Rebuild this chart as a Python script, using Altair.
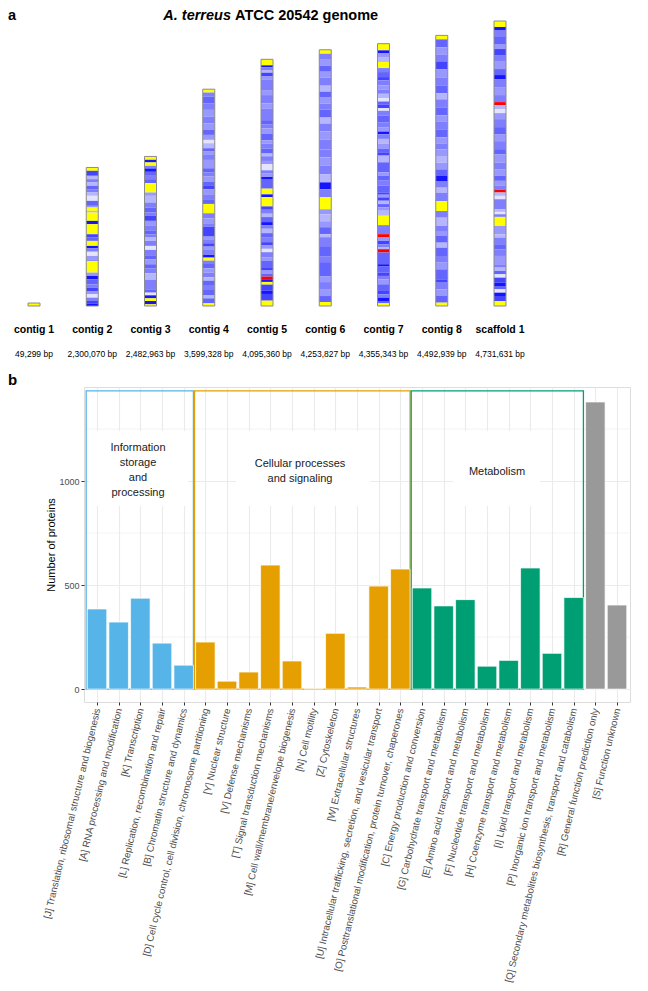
import altair as alt
import pandas as pd

FONT = "Liberation Sans"

# ---------------- panel a data ----------------
contig_names = ["contig 1", "contig 2", "contig 3", "contig 4", "contig 5",
                "contig 6", "contig 7", "contig 8", "scaffold 1"]
contig_lengths = [49299, 2300070, 2482963, 3599328, 4095360,
                  4253827, 4355343, 4492939, 4731631]
# bands from top to bottom, "code:relative length"
contig_bands = [
    "Y:1",
    "Y:2 5:3 1:2 3:2 1:2 4:2 3:2 1:2 0:3 4:3 2:1 Y:2 1:1 Y:5 6:2 Y:6 5:2 4:2 Y:3 6:1.5 3:2 0:2.5 "
    "2:2 3:1 Y:7 2:2 6:2 4:3 3:2 5:2 2:2 0:2 3:2 5:1.5 6:1.5",
    "Y:10 6:8 Y:10 3:8 6:10 4:12 3:10 4:12 Y:28 2:10 1:20 3:15 4:15 3:10 5:15 2:15 3:15 4:10 3:10 "
    "1:10 3:15 0:12 3:18 4:10 2:15 4:13 3:14 1:20 3:28 4:10 0:8 6:9 Y:8 6:10 Y:5",
    "Y:10 3:12 4:20 3:20 2:20 3:20 2:20 4:15 2:15 0:10 1:15 4:10 2:10 3:15 2:25 4:13 3:12 2:15 4:13 "
    "5:10 2:17 3:15 4:12 Y:28 3:15 2:15 3:10 5:30 2:10 3:10 5:10 2:10 3:15 6:8 Y:9 3:10 4:13 2:13 "
    "3:14 1:10 4:13 3:15 4:15 1:10 4:15 Y:8",
    "Y:18 6:6 3:8 1:8 5:10 2:10 3:32 2:15 3:25 2:15 3:35 4:12 3:13 2:15 4:20 2:10 3:15 4:15 1:8 "
    "3:14 2:10 0:18 3:10 2:10 6:8 4:27 Y:17 6:8 Y:28 5:10 3:12 1:10 4:15 6:10 3:10 1:13 4:12 3:15 "
    "5:10 2:10 0:10 3:15 2:10 4:20 5:10 2:10 4:8 R:8 6:8 Y:8 5:18 6:10 5:20 Y:16",
    "Y:4 3:6 2:6 4:6 2:6 3:8 1:6 4:6 2:6 3:6 4:8 1:6 3:8 2:8 3:10 3:8 2:8 3:9 1:8 6:7 3:8 Y:12 "
    "2:5 1:7 2:6 4:7 1:3 3:9 4:10 3:6 4:14 2:6 3:7 2:7 4:6 Y:4",
    "Y:20 6:8 2:12 1:15 Y:18 3:12 4:15 5:10 3:15 2:12 3:13 1:13 0:10 4:10 5:10 0:8 3:14 4:20 3:15 "
    "2:13 6:8 3:14 1:15 2:15 4:10 5:10 1:20 4:30 2:10 4:15 3:15 4:20 5:7 2:8 5:10 1:10 4:10 2:10 "
    "1:15 Y:28 3:27 R:10 2:10 5:10 3:10 1:5 R:10 4:35 6:7 4:18 5:10 3:10 2:15 4:20 5:10 3:10 6:10 "
    "4:7 Y:8",
    "Y:12 4:24 2:21 3:21 5:24 2:24 3:24 4:24 1:18 3:24 4:24 2:18 3:24 4:24 2:18 3:18 2:20 1:20 2:20 "
    "4:20 6:15 3:20 1:15 3:25 Y:30 3:20 1:25 3:15 2:15 4:20 1:15 4:25 3:20 2:20 4:30 5:10 3:20 "
    "2:20 4:20 Y:10",
    "Y:18 6:9 3:21 4:21 2:15 5:18 3:18 2:24 4:18 6:12 3:24 2:24 3:21 R:9 1:12 0:12 2:18 3:24 4:21 "
    "2:21 3:24 4:15 2:25 3:20 2:20 4:15 2:15 3:12 R:8 1:10 0:10 3:30 1:8 0:7 3:8 Y:27 2:25 1:10 "
    "3:20 4:15 3:20 2:25 3:10 1:10 4:10 0:10 5:15 6:10 4:10 0:10 6:10 5:15 Y:15",
]
band_codes = ["0", "1", "2", "3", "4", "5", "6", "Y", "R"]
band_colors = ["#E4E4FF", "#B6B6FF", "#9898FF", "#7E7EFF", "#6464FF",
               "#4444FF", "#1414FF", "#FFFF00", "#FF0000"]

# ---------------- panel b data ----------------
cog_labels = [
    "[J] Translation, ribosomal structure and biogenesis",
    "[A] RNA processing and modification",
    "[K] Transcription",
    "[L] Replication, recombination and repair",
    "[B] Chromatin structure and dynamics",
    "[D] Cell cycle control, cell division, chromosome partitioning",
    "[Y] Nuclear structure",
    "[V] Defense mechanisms",
    "[T] Signal transduction mechanisms",
    "[M] Cell wall/membrane/envelope biogenesis",
    "[N] Cell motility",
    "[Z] Cytoskeleton",
    "[W] Extracellular structures",
    "[U] Intracellular trafficking, secretion, and vesicular transport",
    "[O] Posttranslational modification, protein turnover, chaperones",
    "[C] Energy production and conversion",
    "[G] Carbohydrate transport and metabolism",
    "[E] Amino acid transport and metabolism",
    "[F] Nucleotide transport and metabolism",
    "[H] Coenzyme transport and metabolism",
    "[I] Lipid transport and metabolism",
    "[P] Inorganic ion transport and metabolism",
    "[Q] Secondary metabolites biosynthesis, transport and catabolism",
    "[R] General function prediction only",
    "[S] Function unknown",
]
cog_counts = [385, 322, 437, 221, 115,
              226, 38, 82, 596, 135, 3, 268, 10, 495, 577,
              486, 400, 430, 110, 138, 582, 172, 440,
              1380, 404]
group_names = ["Information storage and processing", "Cellular processes and signaling",
               "Metabolism", "Poorly characterized"]
group_sizes = [5, 10, 8, 2]
group_colors = ["#56B4E9", "#E69F00", "#009E73", "#999999"]
group_label_text = ["Information\nstorage\nand\nprocessing", "Cellular processes\nand signaling",
                    "Metabolism"]
box_top = 1433
minor_grid = [250, 750, 1250]

# ---------------- build tables ----------------
band_rows = []
for i, (L, bands) in enumerate(zip(contig_lengths, contig_bands)):
    segs = [(s.split(":")[0], float(s.split(":")[1])) for s in bands.split()]
    tot = sum(l for _, l in segs)
    top = L
    for code, l in segs:
        bot = top - l / tot * L
        band_rows.append({"idx": i + 1, "code": code, "y_top": top, "y_bot": bot})
        top = bot
df_bands = pd.DataFrame(band_rows)
df_contigs = pd.DataFrame({
    "idx": list(range(1, len(contig_names) + 1)),
    "name": contig_names,
    "length": contig_lengths,
    "base": [0] * len(contig_names),
    "bp": [f"{L:,} bp" for L in contig_lengths],
})

grp = []
for g, n in zip(group_names, group_sizes):
    grp += [g] * n
df_cog = pd.DataFrame({"idx": list(range(1, len(cog_labels) + 1)), "label": cog_labels,
                       "count": cog_counts, "group": grp})
box_rows = []
start = 1
for g, n in zip(group_names[:3], group_sizes[:3]):
    box_rows.append({"group": g, "x0": start - 0.5, "x1": start + n - 1 + 0.45,
                     "y0": 0, "y1": box_top})
    start += n
df_boxes = pd.DataFrame(box_rows)

# ---------------- panel a ----------------
xa_scale = alt.Scale(domain=[1, 9], range=[-55, 421], nice=False, zero=False)
ya_scale = alt.Scale(domain=[0, contig_lengths[-1]], range=[-81, -366], nice=False, zero=False)

bands = alt.Chart(df_bands).mark_bar(width=12, orient="vertical", strokeWidth=0).encode(
    x=alt.X("idx:Q", scale=xa_scale, axis=None),
    y=alt.Y("y_bot:Q", scale=ya_scale, axis=None),
    y2="y_top:Q",
    color=alt.Color("code:N", scale=alt.Scale(domain=band_codes, range=band_colors), legend=None),
)
outline = alt.Chart(df_contigs).mark_bar(width=12, orient="vertical", fillOpacity=0,
                                         stroke="#8c8c8c", strokeWidth=1).encode(
    x=alt.X("idx:Q", scale=xa_scale, axis=None),
    y=alt.Y("base:Q", scale=ya_scale, axis=None),
    y2="length:Q",
)
names = alt.Chart(df_contigs).mark_text(font=FONT, fontSize=10.5, fontWeight="bold",
                                        color="black").encode(
    x=alt.X("idx:Q", scale=xa_scale, axis=None), y=alt.value(-57), text="name:N")
bps = alt.Chart(df_contigs).mark_text(font=FONT, fontSize=8.5, color="black").encode(
    x=alt.X("idx:Q", scale=xa_scale, axis=None), y=alt.value(-33), text="bp:N")
t1 = alt.Chart(pd.DataFrame({"t": ["A. terreus"]})).mark_text(
    font=FONT, fontSize=14.5, fontWeight="bold", fontStyle="italic", align="right",
    color="black").encode(x=alt.value(147), y=alt.value(-371), text="t:N")
t2 = alt.Chart(pd.DataFrame({"t": ["ATCC 20542 genome"]})).mark_text(
    font=FONT, fontSize=14.5, fontWeight="bold", align="left",
    color="black").encode(x=alt.value(151), y=alt.value(-371), text="t:N")
lab_a = alt.Chart(pd.DataFrame({"t": ["a"]})).mark_text(
    font=FONT, fontSize=14.5, fontWeight="bold", align="left", color="black").encode(
    x=alt.value(-76), y=alt.value(-371), text="t:N")

panel_a = alt.layer(bands, outline, names, bps, t1, t2, lab_a)

# ---------------- panel b ----------------
xb_scale = alt.Scale(domain=[0.4, 25.6], nice=False, zero=False)
yb_scale = alt.Scale(domain=[-62, 1452], nice=False, zero=False)
label_expr = "[" + ",".join("'" + s + "'" for s in cog_labels) + "][datum.value - 1]"
x_axis = alt.Axis(orient="bottom", values=list(range(1, 26)), labelExpr=label_expr, title="",
                  labelAngle=-76.5, labelAlign="right", labelBaseline="middle", labelFontSize=9.7,
                  labelColor="#4D4D4D", labelFont=FONT, labelLimit=400, labelPadding=3,
                  labelOverlap=False, labelBound=False, labelFlush=False,
                  tickSize=3, tickColor="#333333", domain=False, grid=True,
                  gridColor="#EBEBEB", gridWidth=1.1)
y_axis = alt.Axis(orient="left", values=[0, 500, 1000], format="d", title="Number of proteins",
                  titleFont=FONT, titleFontSize=11, titleFontWeight="normal", titleColor="black",
                  titlePadding=2, labelFont=FONT, labelFontSize=9, labelColor="#4D4D4D",
                  labelPadding=2, tickSize=3, tickColor="#333333", domain=False, grid=True,
                  gridColor="#EBEBEB", gridWidth=1.1)
grp_scale = alt.Scale(domain=group_names, range=group_colors)

minor = alt.Chart(pd.DataFrame({"v": minor_grid})).mark_rule(
    color="#EBEBEB", strokeWidth=0.6).encode(y=alt.Y("v:Q", scale=yb_scale, axis=y_axis))

one = pd.DataFrame({"k": [0]})
label_boxes = [
    alt.Chart(one).mark_rect(color="white").encode(
        x=alt.value(x0), x2=alt.value(x1), y=alt.value(44), y2=alt.value(119))
    for x0, x1 in [(5, 104), (152, 286), (369, 456)]
]
boxes = alt.Chart(df_boxes).mark_rect(fillOpacity=0, strokeWidth=1.3).encode(
    x=alt.X("x0:Q", scale=xb_scale, axis=x_axis), x2="x1:Q",
    y=alt.Y("y0:Q", scale=yb_scale, axis=y_axis), y2="y1:Q",
    stroke=alt.Stroke("group:N", scale=grp_scale, legend=None),
)
bars = alt.Chart(df_cog).transform_calculate(
    xa="datum.idx - 0.45", xb="datum.idx + 0.45", base="0"
).mark_rect(stroke="white", strokeWidth=0.7).encode(
    x=alt.X("xa:Q", scale=xb_scale, axis=x_axis), x2="xb:Q",
    y=alt.Y("count:Q", scale=yb_scale, axis=y_axis), y2="base:Q",
    color=alt.Color("group:N", scale=grp_scale, legend=None),
)
texts = [
    alt.Chart(pd.DataFrame({"t": [txt]})).mark_text(
        font=FONT, fontSize=11, color="#1A1A1A", lineBreak="\n", lineHeight=15,
        baseline="middle", align="center").encode(x=alt.value(xp), y=alt.value(yp), text="t:N")
    for txt, xp, yp in zip(group_label_text, [54, 216, 413], [61, 77, 85])
]
lab_b = alt.Chart(pd.DataFrame({"t": ["b"]})).mark_text(
    font=FONT, fontSize=15, fontWeight="bold", align="left", color="black").encode(
    x=alt.value(-76), y=alt.value(-7), text="t:N")

panel_b = alt.layer(minor, *label_boxes, boxes, bars, *texts, lab_b)

chart = alt.layer(panel_a, panel_b).resolve_scale(
    x="independent", y="independent", color="independent"
).properties(width=546, height=315, padding=0).configure_view(
    stroke="#333333", strokeWidth=1.1
).configure(font=FONT)

chart.save("out.html", embed_options={"renderer": "svg", "actions": False})
